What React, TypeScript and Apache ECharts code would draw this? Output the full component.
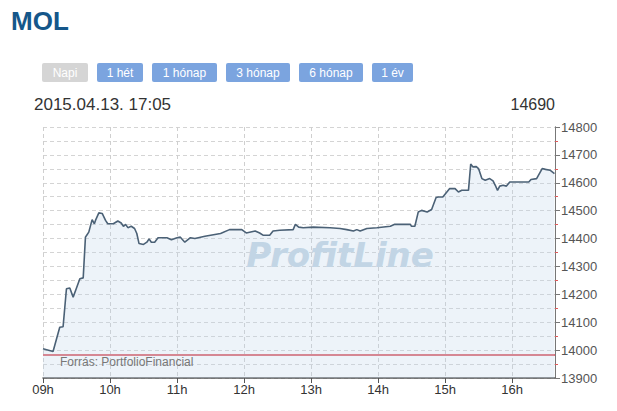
import React, { useEffect, useRef } from "react";
import * as echarts from "echarts";

const times = [
  "09:00","09:09","09:15","09:18","09:21","09:24","09:27","09:30","09:33","09:36",
  "09:38","09:39","09:41","09:44","09:46","09:47","09:50","09:53","09:56","09:58",
  "10:03","10:07","10:10","10:12","10:14","10:16","10:19","10:22","10:24","10:26",
  "10:30","10:33","10:35","10:37","10:40","10:43","10:51","10:55","11:00","11:03",
  "11:07","11:12","11:16","11:25","11:39","11:47","11:58","12:02","12:10","12:14",
  "12:17","12:23","12:26","12:32","12:44","12:46","12:49","12:53","13:02","13:17",
  "13:26","13:32","13:38","13:41","13:44","13:50","13:59","14:11","14:15","14:29",
  "14:30","14:33","14:36","14:39","14:44","14:48","14:52","14:54","14:58","15:00",
  "15:04","15:09","15:12","15:15","15:21","15:23","15:25","15:28","15:30","15:33",
  "15:36","15:40","15:43","15:45","15:47","15:49","15:52","15:55","15:58","16:15",
  "16:17","16:22","16:27","16:30","16:34","16:36","16:38",
];
const prices = [
  14005,13995,14082,14084,14220,14223,14190,14223,14256,14259,
  14405,14411,14423,14468,14453,14465,14492,14490,14465,14453,
  14453,14463,14456,14444,14451,14439,14444,14436,14418,14382,
  14379,14387,14399,14387,14387,14403,14403,14396,14403,14405,
  14387,14403,14400,14408,14418,14432,14432,14420,14427,14420,
  14412,14412,14427,14430,14432,14451,14441,14439,14441,14439,
  14436,14432,14427,14432,14427,14436,14439,14444,14451,14451,
  14444,14444,14495,14501,14495,14504,14547,14549,14549,14559,
  14579,14579,14567,14573,14573,14667,14657,14658,14651,14615,
  14609,14615,14607,14591,14573,14588,14591,14588,14603,14603,
  14612,14615,14651,14648,14645,14639,14633,
];
const previousClose = 13985;
const hourTicks = [9, 10, 11, 12, 13, 14, 15, 16];
const yMin = 13900;
const yMax = 14800;
const xEnd = "16:38";
const buttons = ["Napi", "1 hét", "1 hónap", "3 hónap", "6 hónap", "1 év"];
const titleText = "MOL";
const dateText = "2015.04.13. 17:05";
const lastText = "14690";
const sourceText = "Forrás: PortfolioFinancial";
const watermark = "ProfitLine";

const toHours = (t: string) => {
  const [h, m] = t.split(":").map(Number);
  return h + m / 60;
};

export default function App() {
  const ref = useRef<HTMLDivElement>(null);
  useEffect(() => {
    if (!ref.current) return;
    const chart = echarts.init(ref.current, undefined, { renderer: "svg" });
    const data = times.map((t, i) => [toHours(t), prices[i]]);
    const gridLeft = 43;
    const gridRight = 62;
    const plotWidth = 617 - gridLeft - gridRight;
    const btnX = [42, 97, 152, 226, 299, 372];
    const btnW = [46, 46, 65, 64, 64, 41];
    const btnEls: any[] = [];
    buttons.forEach((b, i) => {
      btnEls.push({
        type: "rect",
        shape: { x: btnX[i], y: 63, width: btnW[i], height: 19, r: 2 },
        style: { fill: i === 0 ? "#d5d5d5" : "#7ba4df" },
        z: 100,
      });
      btnEls.push({
        type: "text",
        x: btnX[i] + btnW[i] / 2,
        y: 72.5,
        style: {
          text: b,
          fill: "#ffffff",
          font: "12px Arial, 'Liberation Sans', sans-serif",
          align: "center",
          verticalAlign: "middle",
        },
        z: 101,
      });
    });
    const option: any = {
      animation: false,
      grid: { left: gridLeft, right: gridRight, top: 127, bottom: 33, containLabel: false },
      xAxis: {
        type: "value",
        min: hourTicks[0],
        max: toHours(xEnd) + 0.008,
        interval: 1,
        axisLine: { show: true, lineStyle: { color: "#555", width: 1.5 } },
        axisTick: { show: true, length: 5, lineStyle: { color: "#555" } },
        axisLabel: {
          fontSize: 13,
          color: "#333",
          fontFamily: "Arial, 'Liberation Sans', sans-serif",
          margin: 5,
          showMaxLabel: false,
          formatter: (v: number) =>
            hourTicks.includes(Math.round(v * 1000) / 1000)
              ? String(v).padStart(2, "0") + "h"
              : "",
        },
        splitLine: { show: true, lineStyle: { color: "#cfcfcf", type: [4, 3] } },
      },
      yAxis: [
        {
          type: "value",
          position: "right",
          min: yMin,
          max: yMax,
          interval: 50,
          axisLine: { show: true, lineStyle: { color: "#777", width: 1 } },
          axisTick: { show: true, length: 3, lineStyle: { color: "#e05a5a" } },
          axisLabel: {
            fontSize: 13,
            color: "#555",
            fontFamily: "Arial, 'Liberation Sans', sans-serif",
            margin: 6,
            formatter: (v: number) => (v % 100 === 0 ? String(v) : ""),
          },
          splitLine: { show: true, lineStyle: { color: "#d4d4d4", type: [4, 3] } },
        },
        {
          type: "value",
          position: "left",
          offset: -plotWidth,
          min: yMin,
          max: yMax,
          interval: 100,
          axisLine: { show: true, lineStyle: { color: "#777", width: 1 } },
          axisTick: { show: true, inside: true, length: 5, lineStyle: { color: "#777" } },
          axisLabel: { show: false },
          splitLine: { show: false },
        },
      ],
      series: [
        {
          type: "line",
          data,
          yAxisIndex: 0,
          showSymbol: false,
          symbol: "none",
          lineStyle: { color: "#4b6176", width: 1.6 },
          areaStyle: { color: "rgba(190,212,232,0.4)", origin: "start" },
          z: 5,
          markLine: {
            silent: true,
            symbol: "none",
            label: { show: false },
            lineStyle: { color: "#de6a72", width: 2, type: "solid" },
            data: [{ yAxis: previousClose }],
          },
        },
      ],
      graphic: [
        {
          type: "text",
          x: 340,
          y: 255,
          z: 1,
          style: {
            text: watermark,
            fill: "#c4d6e4",
            font: "italic bold 34px 'DejaVu Sans', sans-serif",
            align: "center",
            verticalAlign: "middle",
          },
        },
        {
          type: "text",
          x: 11,
          y: 21,
          style: {
            text: titleText,
            fill: "#15578a",
            font: "bold 26px Arial, 'Liberation Sans', sans-serif",
            align: "left",
            verticalAlign: "middle",
          },
        },
        ...btnEls,
        {
          type: "text",
          x: 34,
          y: 104,
          style: {
            text: dateText,
            fill: "#333",
            font: "17px Arial, 'Liberation Sans', sans-serif",
            align: "left",
            verticalAlign: "middle",
          },
        },
        {
          type: "text",
          x: 555,
          y: 104,
          style: {
            text: lastText,
            fill: "#333",
            font: "16px Arial, 'Liberation Sans', sans-serif",
            align: "right",
            verticalAlign: "middle",
          },
        },
        {
          type: "text",
          x: 60,
          y: 362,
          z: 100,
          style: {
            text: sourceText,
            fill: "#777",
            font: "12px Arial, 'Liberation Sans', sans-serif",
            align: "left",
            verticalAlign: "middle",
          },
        },
      ],
    };
    chart.setOption(option);
    return () => chart.dispose();
  }, []);
  return (
    <div
      ref={ref}
      style={{ position: "absolute", left: 0, top: 0, width: 617, height: 411, background: "#fff" }}
    />
  );
}
